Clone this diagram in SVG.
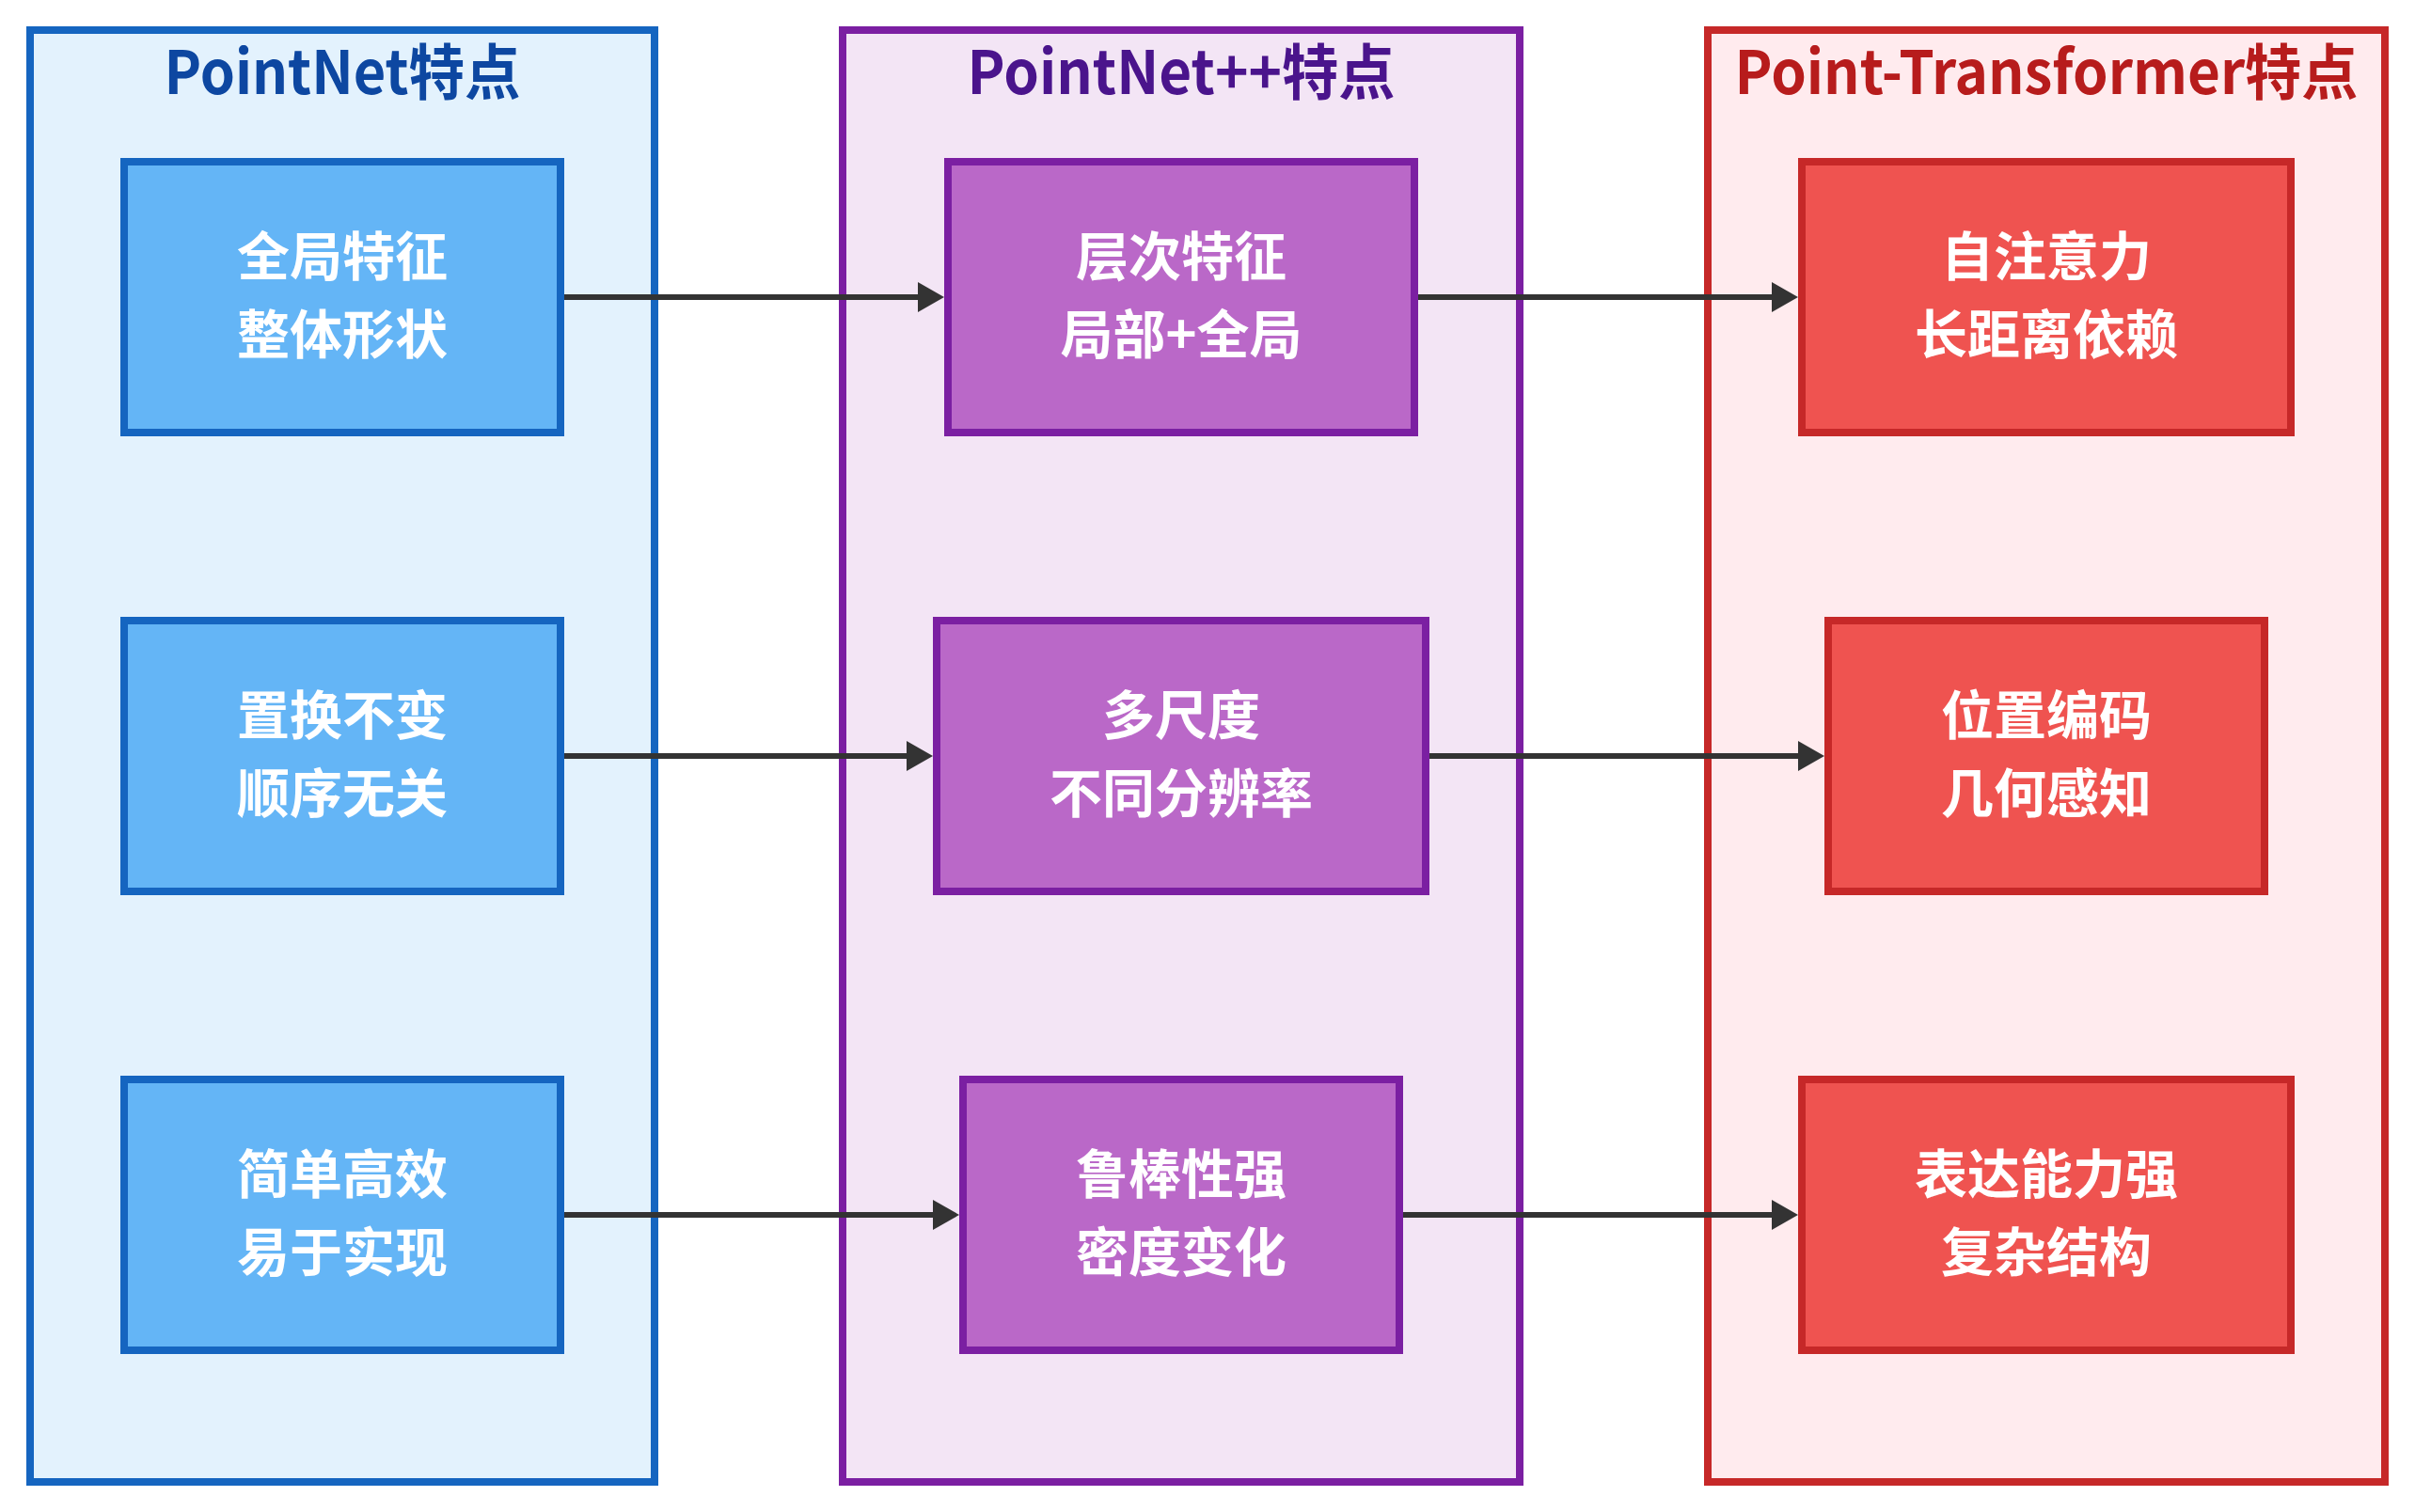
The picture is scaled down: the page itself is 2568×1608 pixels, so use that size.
<svg xmlns="http://www.w3.org/2000/svg" width="2568" height="1608" viewBox="0 0 2568 1608">
<style>
.title{font-family:"Noto Sans CJK SC","Liberation Sans",sans-serif;font-weight:bold;font-size:64px;text-anchor:middle}
.lbl{font-family:"Noto Sans CJK SC","Liberation Sans",sans-serif;font-weight:bold;font-size:56px;text-anchor:middle;fill:#ffffff}
.b-out{fill:#e3f2fd;stroke:#1565c0;stroke-width:8}
.p-out{fill:#f3e5f5;stroke:#7b1fa2;stroke-width:8}
.r-out{fill:#ffebee;stroke:#c62828;stroke-width:8}
.b-n{fill:#64b5f6;stroke:#1565c0;stroke-width:8}
.p-n{fill:#ba68c8;stroke:#7b1fa2;stroke-width:8}
.r-n{fill:#ef5350;stroke:#c62828;stroke-width:8}
.edge{stroke:#333333;stroke-width:6;fill:none}
</style>
<defs>
<marker id="arr" viewBox="0 0 28 32" refX="0" refY="16" markerWidth="28" markerHeight="32" markerUnits="userSpaceOnUse" orient="auto">
<path d="M0,0 L28,16 L0,32 Z" fill="#333333"/>
</marker>
</defs>
<rect width="2568" height="1608" fill="#ffffff"/>
<g id="cluster-pointnet">
<rect class="b-out" x="32" y="32" width="664" height="1544"/>
<text class="title" x="364" y="100" fill="#0d47a1" textLength="379" lengthAdjust="spacingAndGlyphs">PointNet特点</text>
</g>
<g id="cluster-pointnetpp">
<rect class="p-out" x="896" y="32" width="720" height="1544"/>
<text class="title" x="1256" y="100" fill="#4a148c" textLength="455" lengthAdjust="spacingAndGlyphs">PointNet++特点</text>
</g>
<g id="cluster-pt">
<rect class="r-out" x="1816" y="32" width="720" height="1544"/>
<text class="title" x="2176" y="100" fill="#b71c1c" textLength="663" lengthAdjust="spacingAndGlyphs">Point-Transformer特点</text>
</g>
<g id="connectors">
<line class="edge" x1="600" y1="316" x2="976" y2="316" marker-end="url(#arr)"/>
<line class="edge" x1="1508" y1="316" x2="1884" y2="316" marker-end="url(#arr)"/>
<line class="edge" x1="600" y1="804" x2="964" y2="804" marker-end="url(#arr)"/>
<line class="edge" x1="1520" y1="804" x2="1912" y2="804" marker-end="url(#arr)"/>
<line class="edge" x1="600" y1="1292" x2="992" y2="1292" marker-end="url(#arr)"/>
<line class="edge" x1="1492" y1="1292" x2="1884" y2="1292" marker-end="url(#arr)"/>
</g>
<g id="A1">
<rect class="b-n" x="132" y="172" width="464" height="288"/>
<text class="lbl" x="364" y="293">全局特征</text>
<text class="lbl" x="364" y="376">整体形状</text>
</g>
<g id="A2">
<rect class="b-n" x="132" y="660" width="464" height="288"/>
<text class="lbl" x="364" y="781">置换不变</text>
<text class="lbl" x="364" y="864">顺序无关</text>
</g>
<g id="A3">
<rect class="b-n" x="132" y="1148" width="464" height="288"/>
<text class="lbl" x="364" y="1269">简单高效</text>
<text class="lbl" x="364" y="1352">易于实现</text>
</g>
<g id="B1">
<rect class="p-n" x="1008" y="172" width="496" height="288"/>
<text class="lbl" x="1256" y="293">层次特征</text>
<text class="lbl" x="1256" y="376">局部+全局</text>
</g>
<g id="B2">
<rect class="p-n" x="996" y="660" width="520" height="288"/>
<text class="lbl" x="1256" y="781">多尺度</text>
<text class="lbl" x="1256" y="864">不同分辨率</text>
</g>
<g id="B3">
<rect class="p-n" x="1024" y="1148" width="464" height="288"/>
<text class="lbl" x="1256" y="1269">鲁棒性强</text>
<text class="lbl" x="1256" y="1352">密度变化</text>
</g>
<g id="C1">
<rect class="r-n" x="1916" y="172" width="520" height="288"/>
<text class="lbl" x="2176" y="293">自注意力</text>
<text class="lbl" x="2176" y="376">长距离依赖</text>
</g>
<g id="C2">
<rect class="r-n" x="1944" y="660" width="464" height="288"/>
<text class="lbl" x="2176" y="781">位置编码</text>
<text class="lbl" x="2176" y="864">几何感知</text>
</g>
<g id="C3">
<rect class="r-n" x="1916" y="1148" width="520" height="288"/>
<text class="lbl" x="2176" y="1269">表达能力强</text>
<text class="lbl" x="2176" y="1352">复杂结构</text>
</g>
</svg>
